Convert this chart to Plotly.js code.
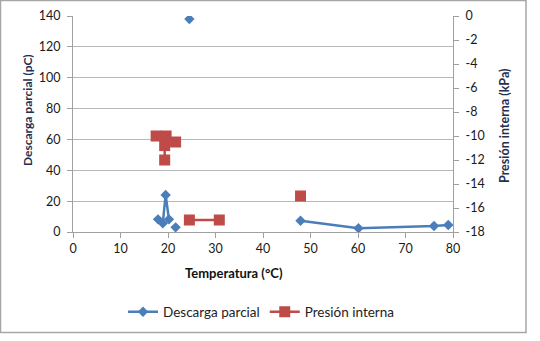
<!DOCTYPE html>
<html>
<head>
<meta charset="utf-8">
<script src="https://cdn.plot.ly/plotly-3.0.1.min.js"></script>
<style>
html,body{margin:0;padding:0;background:#fff;}
#chart{width:540px;height:341px;}
</style>
</head>
<body>
<div id="chart"></div>
<script>
// Descarga parcial (pC) vs temperature (°C); null = gap in the line
const descargaTemp = [17.9, 18.9, 19.5, 20.2, null, 21.6, null, 24.5, null, 47.9, 60.1, 76.0, 79.0];
const descargaPC   = [8.2, 5.6, 24, 8.2, null, 3.0, null, 138, null, 7.3, 2.4, 3.9, 4.5];

// Presión interna (kPa) vs temperature (°C)
const presionTemp = [17.5, 19.6, 21.6, 19.3, 19.3, null, 24.5, 30.8, null, 47.9];
const presionKPa  = [-10, -10, -10.5, -10.8, -12, null, -17, -17, null, -15];

const xTicks = [0, 10, 20, 30, 40, 50, 60, 70, 80];
const yLeftTicks = [0, 20, 40, 60, 80, 100, 120, 140];
const yRightTicks = [0, -2, -4, -6, -8, -10, -12, -14, -16, -18];

const W = 540, H = 341, L = 73, R = 87, T = 16, B = 109;
const pw = W - L - R, ph = H - T - B;
const px = v => (v - L) / pw;
const py = v => (H - B - v) / ph;

const fontFam = 'Lato, "Open Sans", "Liberation Sans", sans-serif';
const titleColor = '#1f3050';

const traces = [
  {
    x: descargaTemp, y: descargaPC, name: 'Descarga parcial',
    type: 'scatter', mode: 'lines+markers', connectgaps: false,
    line: {color: '#4a7ebb', width: 2.5},
    marker: {symbol: 'diamond', size: 8, color: '#4a7ebb'},
    yaxis: 'y'
  },
  {
    x: presionTemp, y: presionKPa, name: 'Presión interna',
    type: 'scatter', mode: 'lines+markers', connectgaps: false,
    line: {color: '#be4b48', width: 2.5},
    marker: {symbol: 'square', size: 11, color: '#be4b48'},
    yaxis: 'y2'
  }
];

const layout = {
  width: W, height: H,
  margin: {l: L, r: R, t: T, b: B, pad: 0},
  paper_bgcolor: '#fff', plot_bgcolor: '#fff',
  font: {family: fontFam, size: 12, color: '#222'},
  showlegend: true,
  legend: {
    orientation: 'h', x: px(123), xanchor: 'left', y: py(312), yanchor: 'middle',
    font: {family: fontFam, size: 13.5, color: '#222'}, bgcolor: 'rgba(0,0,0,0)'
  },
  xaxis: {
    range: [0, 80], tickvals: xTicks, ticktext: xTicks.map(String),
    showgrid: false, zeroline: false,
    showline: true, linecolor: '#a0a0a0', linewidth: 1,
    ticks: 'outside', ticklen: 5, tickcolor: '#a0a0a0',
    tickfont: {family: fontFam, size: 12.5, color: '#1a1a1a'}
  },
  yaxis: {
    range: [0, 140], tickvals: yLeftTicks, ticktext: yLeftTicks.map(String),
    showgrid: true, gridcolor: '#b8b8b8', gridwidth: 1, zeroline: false,
    showline: true, linecolor: '#a0a0a0', linewidth: 1,
    ticks: 'outside', ticklen: 5, tickcolor: '#a0a0a0', ticklabelstandoff: 4,
    tickfont: {family: fontFam, size: 12.5, color: '#1a1a1a'}
  },
  yaxis2: {
    range: [-18, 0], tickvals: yRightTicks, ticktext: yRightTicks.map(v => v === 0 ? '0' : '-' + Math.abs(v)),
    overlaying: 'y', side: 'right',
    showgrid: false, zeroline: false,
    showline: true, linecolor: '#a0a0a0', linewidth: 1,
    ticks: 'outside', ticklen: 5, tickcolor: '#a0a0a0', ticklabelstandoff: 4,
    tickfont: {family: fontFam, size: 12.5, color: '#1a1a1a'}
  },
  annotations: [
    {text: '<b>Temperatura (°C)</b>', xref: 'paper', yref: 'paper',
     x: px(234), y: py(273), xanchor: 'center', yanchor: 'middle', showarrow: false,
     font: {family: fontFam, size: 13, color: '#111'}},
    {text: '<b>Descarga parcial (pC)</b>', xref: 'paper', yref: 'paper',
     x: px(27), y: py(110), xanchor: 'center', yanchor: 'middle', showarrow: false, textangle: -90,
     font: {family: fontFam, size: 12, color: titleColor}},
    {text: '<b>Presión interna (kPa)</b>', xref: 'paper', yref: 'paper',
     x: px(504), y: py(126), xanchor: 'center', yanchor: 'middle', showarrow: false, textangle: -90,
     font: {family: fontFam, size: 12.5, color: titleColor}}
  ],
  shapes: [
    {type: 'rect', xref: 'paper', yref: 'paper', layer: 'below',
     x0: px(0.5), x1: px(526), y0: py(332.5), y1: py(0.5),
     line: {color: '#a6a6a6', width: 1.5}, fillcolor: 'rgba(0,0,0,0)'}
  ]
};

Plotly.newPlot('chart', traces, layout, {displayModeBar: false, staticPlot: true});
</script>
</body>
</html>
